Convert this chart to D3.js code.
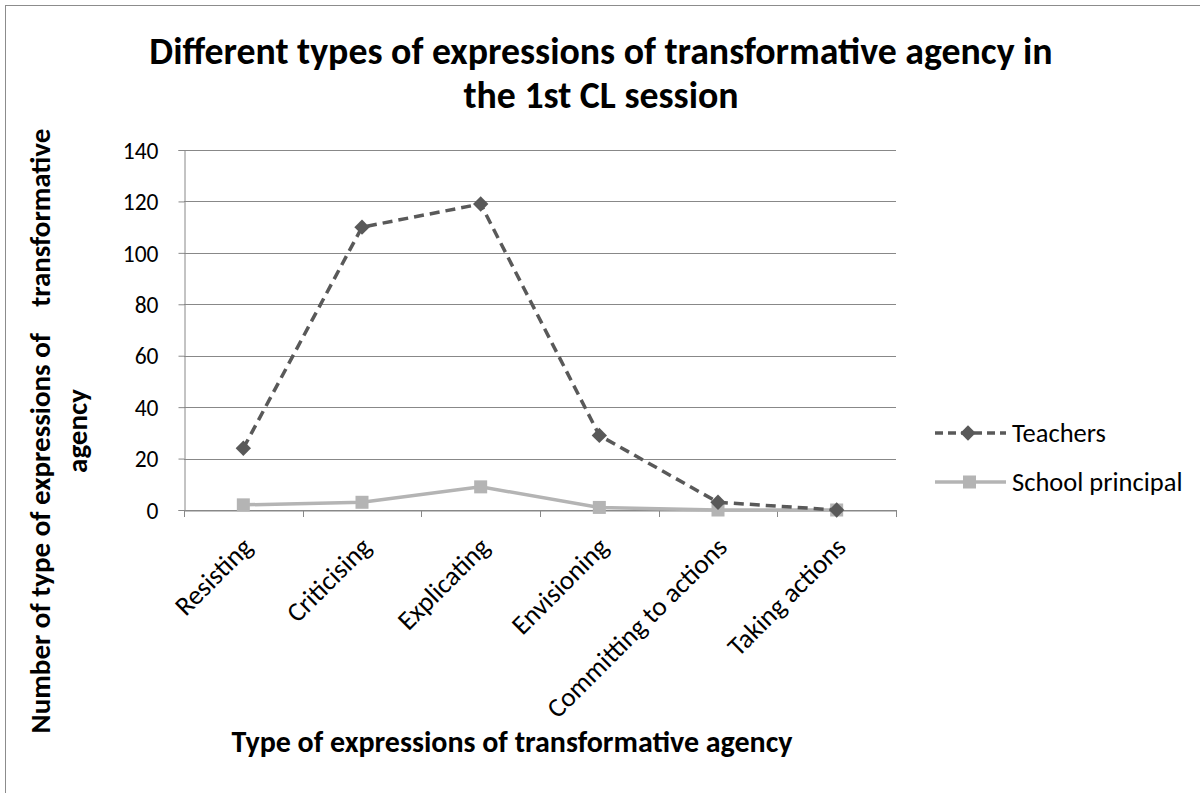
<!DOCTYPE html>
<html>
<head>
<meta charset="utf-8">
<script src="https://cdn.jsdelivr.net/npm/d3@7"></script>
<style>
  body { margin: 0; background: #fff; }
  text { font-family: Carlito, "Liberation Sans Narrow", "Open Sans", sans-serif; fill: #000; }
</style>
</head>
<body>
<script>
// chart data
var categories = ["Resisting", "Criticising", "Explicating", "Envisioning", "Committing to actions", "Taking actions"];
var teachers = [24, 110, 119, 29, 3, 0];
var principal = [2, 3, 9, 1, 0, 0];
var yTicks = [0, 20, 40, 60, 80, 100, 120, 140];
var seriesNames = ["Teachers", "School principal"];

var W = 1200, H = 793;
var plot = {left: 184, right: 896, top: 150, bottom: 510};

var svg = d3.select("body").append("svg")
    .attr("width", W)
    .attr("height", H);

// outer border
svg.append("rect")
    .attr("x", 5.5).attr("y", 5.5)
    .attr("width", W).attr("height", H + 10)
    .attr("fill", "#fff").attr("stroke", "#8c8c8c");

var x = d3.scaleBand().domain(categories).range([plot.left, plot.right]);
var y = d3.scaleLinear().domain([0, 140]).range([plot.bottom, plot.top]);

// gridlines
svg.append("g").selectAll("line")
    .data(yTicks)
  .enter().append("line")
    .attr("x1", plot.left).attr("x2", plot.right)
    .attr("y1", function(d) { return Math.round(y(d)) + 0.5; })
    .attr("y2", function(d) { return Math.round(y(d)) + 0.5; })
    .attr("stroke", "#888").attr("stroke-width", 1);

// y axis
var yAxis = d3.axisLeft(y).tickValues(yTicks).tickSize(6).tickPadding(20);
var gy = svg.append("g")
    .attr("transform", "translate(" + (plot.left + 0.5) + ",0)")
    .call(yAxis);
gy.select(".domain").attr("stroke", "#888");
gy.selectAll(".tick line").attr("stroke", "#888");
gy.selectAll(".tick text").style("font-size", "23.5px").attr("dy", "0.35em");

// x axis
var xAxis = d3.axisBottom(x).tickSize(0).tickFormat("");
var gx = svg.append("g")
    .attr("transform", "translate(0," + (Math.round(y(0)) + 0.5) + ")")
    .call(xAxis);
gx.select(".domain").attr("stroke", "#888");
// tick marks at band edges
svg.append("g").selectAll("line")
    .data(categories.concat(["end"]))
  .enter().append("line")
    .attr("x1", function(d, i) { return Math.round(plot.left + i * x.step()) + 0.5; })
    .attr("x2", function(d, i) { return Math.round(plot.left + i * x.step()) + 0.5; })
    .attr("y1", Math.round(y(0)))
    .attr("y2", Math.round(y(0)) + 7)
    .attr("stroke", "#888");

// category labels rotated
svg.append("g").selectAll("text")
    .data(categories)
  .enter().append("text")
    .attr("transform", function(d) {
        return "translate(" + (x(d) + x.bandwidth() / 2 + 4) + "," + (plot.bottom + 32) + ") rotate(-45)";
    })
    .attr("text-anchor", "end")
    .attr("dy", "0.35em")
    .style("font-size", "27px")
    .text(function(d) { return d; });

var cx = function(d, i) { return x(categories[i]) + x.bandwidth() / 2; };

// school principal line
var line = d3.line()
    .x(function(d, i) { return cx(d, i); })
    .y(function(d) { return y(d); });

svg.append("path")
    .datum(principal)
    .attr("d", line)
    .attr("fill", "none")
    .attr("stroke", "#b4b4b4")
    .attr("stroke-width", 3.5);

svg.append("g").selectAll("rect")
    .data(principal)
  .enter().append("rect")
    .attr("x", function(d, i) { return cx(d, i) - 6.5; })
    .attr("y", function(d) { return y(d) - 6.5; })
    .attr("width", 13).attr("height", 13)
    .attr("fill", "#b4b4b4");

// teachers line
svg.append("path")
    .datum(teachers)
    .attr("d", line)
    .attr("fill", "none")
    .attr("stroke", "#595959")
    .attr("stroke-width", 3.5)
    .attr("stroke-dasharray", "10,6");

var diamond = d3.symbol().type(d3.symbolDiamond2).size(150);
svg.append("g").selectAll("path")
    .data(teachers)
  .enter().append("path")
    .attr("transform", function(d, i) { return "translate(" + cx(d, i) + "," + y(d) + ")"; })
    .attr("d", diamond)
    .attr("fill", "#595959");

// legend
var legend = svg.append("g");
var lgY = [433, 482];
legend.append("line")
    .attr("x1", 935).attr("x2", 1006).attr("y1", lgY[0]).attr("y2", lgY[0])
    .attr("stroke", "#595959").attr("stroke-width", 3.5).attr("stroke-dasharray", "8,5");
legend.append("path")
    .attr("transform", "translate(968," + lgY[0] + ")")
    .attr("d", diamond).attr("fill", "#595959");
legend.append("line")
    .attr("x1", 935).attr("x2", 1006).attr("y1", lgY[1]).attr("y2", lgY[1])
    .attr("stroke", "#b4b4b4").attr("stroke-width", 3.5);
legend.append("rect")
    .attr("x", 963).attr("y", lgY[1] - 6.5).attr("width", 13).attr("height", 13)
    .attr("fill", "#b4b4b4");
legend.selectAll("text")
    .data(seriesNames)
  .enter().append("text")
    .attr("x", 1012)
    .attr("y", function(d, i) { return lgY[i]; })
    .attr("dy", "0.35em")
    .style("font-size", "26.5px")
    .text(function(d) { return d; });

// title
svg.append("text")
    .attr("x", 601).attr("y", 64)
    .attr("text-anchor", "middle")
    .style("font-size", "37.8px").style("font-weight", "bold")
    .text("Different types of expressions of transformative agency in");
svg.append("text")
    .attr("x", 601).attr("y", 108)
    .attr("text-anchor", "middle")
    .style("font-size", "37.8px").style("font-weight", "bold")
    .text("the 1st CL session");

// y axis title
svg.append("text")
    .attr("transform", "translate(50,431) rotate(-90)")
    .attr("text-anchor", "middle")
    .style("font-size", "29px").style("font-weight", "bold")
    .style("white-space", "pre")
    .text("Number of type of expressions of    transformative");
svg.append("text")
    .attr("transform", "translate(87,431) rotate(-90)")
    .attr("text-anchor", "middle")
    .style("font-size", "29px").style("font-weight", "bold")
    .text("agency");

// x axis title
svg.append("text")
    .attr("x", 512).attr("y", 752)
    .attr("text-anchor", "middle")
    .style("font-size", "30px").style("font-weight", "bold")
    .text("Type of expressions of transformative agency");
</script>
</body>
</html>
